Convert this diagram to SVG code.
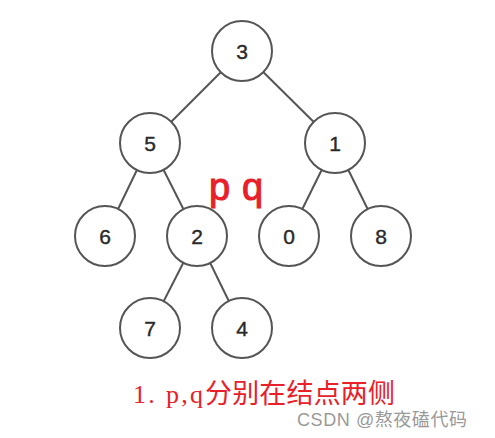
<svg xmlns="http://www.w3.org/2000/svg" width="495" height="438" viewBox="0 0 495 438">
<style>
.n circle{fill:#fff;stroke:#555;stroke-width:2}
.n text{font-family:"Liberation Sans",Arial,sans-serif;font-size:21px;fill:#2a2a2a;text-anchor:middle;dominant-baseline:central;stroke:#2a2a2a;stroke-width:0.4}
.e line{stroke:#555;stroke-width:2}
.red{fill:#e8202a}
</style>
<rect width="495" height="438" fill="#fff"/>
<g id="connectors" class="e">
<line x1="242" y1="51" x2="150" y2="143"/>
<line x1="242" y1="51" x2="335" y2="143"/>
<line x1="150" y1="143" x2="105" y2="236"/>
<line x1="150" y1="143" x2="197" y2="236"/>
<line x1="335" y1="143" x2="289" y2="236"/>
<line x1="335" y1="143" x2="381" y2="236"/>
<line x1="197" y1="236" x2="150" y2="328"/>
<line x1="197" y1="236" x2="242" y2="328"/>
</g>
<g id="n3" class="n"><circle cx="242" cy="51" r="30"/><text x="242" y="51">3</text></g>
<g id="n5" class="n"><circle cx="150" cy="143" r="30"/><text x="150" y="143">5</text></g>
<g id="n1" class="n"><circle cx="335" cy="143" r="30"/><text x="335" y="143">1</text></g>
<g id="n6" class="n"><circle cx="105" cy="236" r="30"/><text x="105" y="236">6</text></g>
<g id="n2" class="n"><circle cx="197" cy="236" r="30"/><text x="197" y="236">2</text></g>
<g id="n0" class="n"><circle cx="289" cy="236" r="30"/><text x="289" y="236">0</text></g>
<g id="n8" class="n"><circle cx="381" cy="236" r="30"/><text x="381" y="236">8</text></g>
<g id="n7" class="n"><circle cx="150" cy="328" r="30"/><text x="150" y="328">7</text></g>
<g id="n4" class="n"><circle cx="242" cy="328" r="30"/><text x="242" y="328">4</text></g>
<g id="pq" font-family="'Liberation Sans',sans-serif" font-size="38" class="red" stroke="#e8202a" stroke-width="1">
<text x="209" y="200">p</text>
<text x="242" y="200">q</text>
</g>
<text y="403" class="red" font-family="'Liberation Serif','Noto Sans CJK SC',serif" font-size="26"><tspan x="133" textLength="70">1. p,q</tspan><tspan x="205" textLength="190" font-size="27">分别在结点两侧</tspan></text>
<text x="297" y="426" fill="#9a9a9a" font-family="'Liberation Sans','Noto Sans CJK SC',sans-serif" font-size="18" textLength="170">CSDN @熬夜磕代码</text>
</svg>
